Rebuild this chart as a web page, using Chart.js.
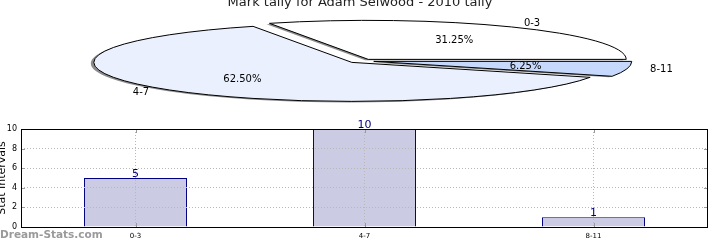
<!DOCTYPE html>
<html>
<head>
<meta charset="utf-8">
<script src="https://cdn.jsdelivr.net/npm/chart.js@4.4.0/dist/chart.umd.js"></script>
<style>
  html, body { margin: 0; padding: 0; background: #fff; }
  #wrap { position: relative; width: 720px; height: 240px; overflow: hidden; }
  #pieChart { position: absolute; left: 0; top: 0; }
  #barChart { position: absolute; left: 0; top: 120px; }
</style>
</head>
<body>
<div id="wrap">
  <canvas id="pieChart" width="720" height="110"></canvas>
  <canvas id="barChart" width="720" height="120"></canvas>
</div>
<script>
(function() {
    'use strict';

    // Chart data
    const chartTitle = 'Mark tally for Adam Selwood - 2010 tally';
    const categories = ['0-3', '4-7', '8-11'];
    const tallies = [5, 10, 1];
    const yTicks = [0, 2, 4, 6, 8, 10];
    const yAxisTitle = 'Stat Intervals';
    const watermark = 'Dream-Stats.com';

    const FONT = 'DejaVu Sans';
    const PIE_RX = 258;     // horizontal radius of the flattened pie
    const PIE_RY = 39;      // vertical radius
    const EXPLODE = 13;     // wedge offset from centre

    // Squash the pie into an ellipse, explode wedges, add shadow and labels
    const flatPie = {
        id: 'flatPie',
        afterDatasetsUpdate(chart) {
            chart.getDatasetMeta(0).data.forEach(function(arc) {
                const proto = Object.getPrototypeOf(arc);
                arc.draw = function(ctx) {
                    const mid = (this.startAngle + this.endAngle) / 2;
                    ctx.save();
                    ctx.translate(Math.cos(mid) * EXPLODE, Math.sin(mid) * EXPLODE);
                    proto.draw.call(this, ctx);
                    ctx.restore();
                };
            });
        },
        beforeDatasetsDraw(chart) {
            const ctx = chart.ctx;
            const arc = chart.getDatasetMeta(0).data[0];
            ctx.save();
            ctx.translate(arc.x, arc.y);
            ctx.scale(1, -PIE_RY / PIE_RX);
            ctx.translate(-arc.x, -arc.y);
            // shadow under the wedge fill only
            ctx.shadowColor = 'rgba(0, 0, 0, 0.45)';
            ctx.shadowOffsetX = -3;
            ctx.shadowOffsetY = 1;
            ctx.shadowBlur = 0;
            // keep border width even though the context is squashed
            const stroke = ctx.stroke;
            ctx.stroke = function() {
                this.save();
                this.setTransform(1, 0, 0, 1, 0, 0);
                this.shadowColor = 'rgba(0, 0, 0, 0)';
                stroke.call(this);
                this.restore();
            };
        },
        afterDatasetsDraw(chart) {
            const ctx = chart.ctx;
            delete ctx.stroke;
            ctx.restore();

            const arcs = chart.getDatasetMeta(0).data;
            const total = tallies.reduce((a, b) => a + b, 0);
            const k = PIE_RY / PIE_RX;

            ctx.save();
            ctx.fillStyle = '#000';
            ctx.font = '10px "' + FONT + '"';
            ctx.textBaseline = 'middle';
            arcs.forEach(function(arc, i) {
                const mid = (arc.startAngle + arc.endAngle) / 2;
                const at = function(f) {
                    const d = EXPLODE + f * PIE_RX;
                    return { x: arc.x + Math.cos(mid) * d, y: arc.y - Math.sin(mid) * d * k };
                };
                const lp = at(1.1);
                ctx.textAlign = Math.cos(mid) > 0 ? 'left' : 'right';
                ctx.fillText(categories[i], lp.x - 2, lp.y);
                const pp = at(0.6);
                ctx.textAlign = 'center';
                ctx.fillText((tallies[i] / total * 100).toFixed(2) + '%', pp.x, pp.y);
            });

            ctx.font = '13px "' + FONT + '"';
            ctx.textAlign = 'center';
            ctx.textBaseline = 'alphabetic';
            ctx.fillStyle = '#222';
            ctx.fillText(chartTitle, 360, 6);
            ctx.restore();
        }
    };

    new Chart(document.getElementById('pieChart'), {
        type: 'pie',
        data: {
            labels: categories,
            datasets: [{
                data: tallies,
                backgroundColor: ['#ffffff', '#eaf0fd', '#c6d9fd'],
                borderColor: '#000000',
                borderWidth: 1
            }]
        },
        options: {
            responsive: false,
            animation: false,
            events: [],
            radius: PIE_RX,
            rotation: 90,
            layout: { padding: { left: 2, top: 12, right: 0, bottom: 0 } },
            plugins: {
                legend: { display: false },
                tooltip: { enabled: false }
            }
        },
        plugins: [flatPie]
    });

    // Frame, inner tick marks, value labels and watermark for the bar chart
    const barExtras = {
        id: 'barExtras',
        afterDraw(chart) {
            const ctx = chart.ctx;
            const a = chart.chartArea;
            const xs = chart.scales.x;
            const ys = chart.scales.y;
            ctx.save();

            ctx.strokeStyle = '#999';
            ctx.lineWidth = 1;
            ctx.beginPath();
            yTicks.forEach(function(v) {
                const y = Math.round(ys.getPixelForValue(v)) + 0.5;
                ctx.moveTo(a.left, y); ctx.lineTo(a.left + 4, y);
                ctx.moveTo(a.right - 4, y); ctx.lineTo(a.right, y);
            });
            categories.forEach(function(c, i) {
                const x = Math.round(xs.getPixelForValue(i)) + 0.5;
                ctx.moveTo(x, a.top); ctx.lineTo(x, a.top + 4);
                ctx.moveTo(x, a.bottom - 4); ctx.lineTo(x, a.bottom);
            });
            ctx.stroke();

            ctx.strokeStyle = '#000';
            ctx.strokeRect(Math.round(a.left) + 0.5, Math.round(a.top) + 0.5,
                Math.round(a.right - a.left) - 1, Math.round(a.bottom - a.top));

            ctx.fillStyle = '#000080';
            ctx.font = '11px "' + FONT + '"';
            ctx.textAlign = 'center';
            ctx.textBaseline = 'alphabetic';
            chart.getDatasetMeta(0).data.forEach(function(bar, i) {
                ctx.fillText(String(tallies[i]), bar.x, bar.y - 1);
            });

            ctx.fillStyle = '#9a9a9a';
            ctx.font = 'bold 10.5px "' + FONT + '"';
            ctx.textAlign = 'left';
            ctx.fillText(watermark, 0, 118);
            ctx.restore();
        }
    };

    new Chart(document.getElementById('barChart'), {
        type: 'bar',
        data: {
            labels: categories,
            datasets: [{
                data: tallies,
                backgroundColor: '#cbcbe4',
                borderColor: '#000080',
                borderWidth: 1,
                barPercentage: 0.45,
                categoryPercentage: 1
            }]
        },
        options: {
            responsive: false,
            animation: false,
            events: [],
            layout: { padding: { top: 9, right: 12, left: 0, bottom: 0 } },
            plugins: {
                legend: { display: false },
                tooltip: { enabled: false }
            },
            scales: {
                x: {
                    offset: true,
                    grid: { offset: false, drawTicks: false, color: '#b8b8b8', z: 1 },
                    border: { display: false, dash: [1, 2] },
                    ticks: { padding: 5, color: '#000', font: { family: FONT, size: 7 } },
                    afterFit(scale) { scale.height = 13; }
                },
                y: {
                    min: 0,
                    max: 10,
                    afterBuildTicks(scale) { scale.ticks = yTicks.map(v => ({ value: v })); },
                    grid: { drawTicks: false, color: '#b8b8b8', z: 1 },
                    border: { display: false, dash: [1, 2] },
                    ticks: { padding: 4, color: '#000', font: { family: FONT, size: 8 } },
                    title: {
                        display: true,
                        text: yAxisTitle,
                        color: '#000',
                        padding: { top: -4, bottom: 0 },
                        font: { family: FONT, size: 11 }
                    },
                    afterFit(scale) { scale.width = 21; }
                }
            }
        },
        plugins: [barExtras]
    });
})();
</script>
</body>
</html>
